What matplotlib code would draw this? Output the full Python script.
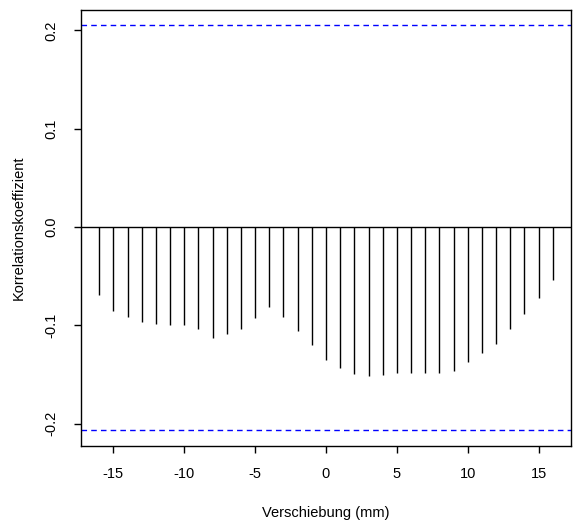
import numpy as np
import matplotlib.pyplot as plt

plt.rcParams['font.family'] = ['Liberation Sans', 'DejaVu Sans']
plt.rcParams['axes.unicode_minus'] = False

# Kreuzkorrelation je Verschiebung
verschiebung = np.arange(-16, 17)
korrelation = [-0.069, -0.085, -0.092, -0.097, -0.099, -0.100, -0.100, -0.104,
               -0.113, -0.109, -0.104, -0.093, -0.081, -0.092, -0.106, -0.120,
               -0.135, -0.143, -0.150, -0.152, -0.151, -0.149, -0.149, -0.149,
               -0.149, -0.146, -0.137, -0.128, -0.119, -0.104, -0.088, -0.072,
               -0.054]
grenze = 0.206  # Konfidenzgrenze

fig = plt.figure(figsize=(5.73, 5.25), dpi=100)
ax = fig.add_axes([0.1414, 0.151, 0.855, 0.830])

ax.vlines(verschiebung, 0, korrelation, color='black', linewidth=1.0)
ax.axhline(0, color='black', linewidth=1.0)
ax.axhline(grenze, color='#0000ff', linestyle=(0, (4, 3)), linewidth=1.0)
ax.axhline(-grenze, color='#0000ff', linestyle=(0, (4, 3)), linewidth=1.0)

ax.set_xlim(-17.28, 17.28)
ax.set_ylim(-0.2225, 0.2208)
ax.set_xticks([-15, -10, -5, 0, 5, 10, 15])
ax.set_yticks([-0.2, -0.1, 0.0, 0.1, 0.2])
ax.set_yticklabels(['-0.2', '-0.1', '0.0', '0.1', '0.2'], rotation=90, va='center')
ax.tick_params(direction='out', length=5, width=1, labelsize=10.5, pad=10)
ax.tick_params(axis='y', pad=11)
for s in ax.spines.values():
    s.set_linewidth(1.0)

ax.set_xlabel('Verschiebung (mm)', fontsize=10.5, labelpad=18)
ax.set_ylabel('Korrelationskoeffizient', fontsize=10.5, labelpad=14)

fig.savefig('out.png', dpi=100)
